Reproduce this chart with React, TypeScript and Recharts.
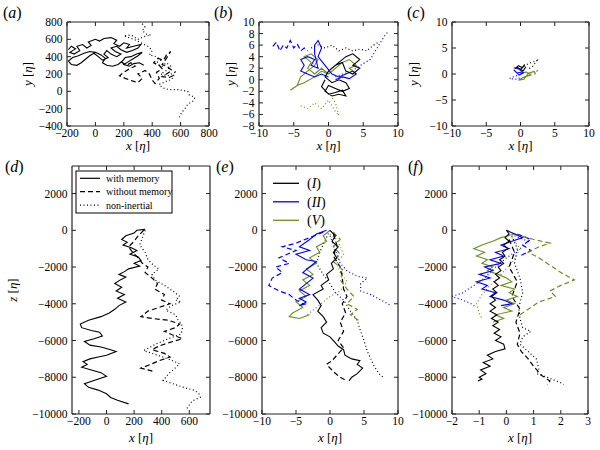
import React from 'react';
import { LineChart, Line, XAxis, YAxis } from 'recharts';

type P = [number, number];

// ---------- Panel (a): x-y trajectories, case (I) ----------
const aWithMemory: P[] = [[-190,480],[-170,520],[-140,490],[-180,450],[-150,430],[-110,470],[-130,520],[-90,540],[-60,500],[-30,530],[-50,570],[0,600],[30,580],[60,610],[110,620],[150,590],[130,550],[170,520],[200,560],[240,540],[220,500],[270,520],[320,540],[300,500],[260,470],[220,450],[180,480],[150,520],[110,500],[140,460],[180,430],[150,400],[110,430],[80,470],[60,430],[90,390],[50,360],[20,400],[-10,440],[-40,410],[-70,370],[-100,330],[-130,300],[-170,310],[-190,350],[-160,390],[-120,410],[-80,440],[-40,460],[0,450],[40,420],[70,380],[50,330],[80,300],[120,290],[160,310],[190,350],[210,390],[250,400],[290,430],[330,450],[300,410],[260,370],[230,340],[200,310],[240,290],[270,320],[310,330],[340,300]];
const aWithoutMemory: P[] = [[180,340],[220,300],[250,330],[280,290],[240,260],[200,220],[170,180],[210,150],[260,120],[300,100],[330,150],[300,200],[350,240],[380,200],[400,130],[420,90],[450,150],[430,220],[470,260],[450,300],[410,330],[440,380],[480,360],[500,420],[530,460],[500,380],[470,310],[510,280],[540,240],[500,200],[470,170],[520,160],[560,190]];
const aNonInertial: P[] = [[330,780],[350,740],[330,700],[360,660],[390,650],[340,630],[300,600],[250,650],[200,640],[270,600],[320,560],[370,520],[400,470],[380,420],[430,400],[460,360],[420,320],[470,290],[500,330],[530,290],[500,240],[460,200],[510,180],[560,220],[540,140],[490,110],[450,80],[470,40],[520,20],[580,20],[620,10],[650,0],[660,-40],[700,-70],[690,-110],[650,-150],[630,-200],[610,-240],[590,-300]];

// ---------- Panel (b): x-y trajectories, cases I, II, V ----------
const bBlackSolid: P[] = [[0.5,2],[1.5,3],[2.5,4],[3.5,4.5],[4.5,3.5],[3.5,2.5],[4.5,2],[3.5,1],[2.5,1.5],[2,3],[1,2.5],[0,1.5],[-0.5,0.5],[0.5,-0.5],[1.5,0],[2.5,-0.5],[3,-1.5],[2,-2],[1,-1.5],[0,-1],[-0.5,-2],[0.5,-2.8],[1.5,-2.5],[2.5,-2.8],[2,-1.8],[1,-2.2],[0,-2.5],[-1,-1.2],[-0.5,0]];
const bBlackDotted: P[] = [[-2.5,5.5],[-1.5,6],[-0.5,5.5],[0.5,6],[1.5,5],[2.5,5.5],[3.5,5],[4.5,5.3],[5.5,5],[6.5,6],[7.2,6.5]];
const bBlueSolid: P[] = [[0,0.5],[-1,1],[-2,0.5],[-3,1],[-4,1.5],[-3.5,2.5],[-4,3.5],[-3,4],[-2,3.5],[-2.5,2.5],[-1.5,2],[-2,4.5],[-2,6],[-1.5,6.8],[-1,5.5],[-1.5,4],[-0.5,2.5],[0.5,1],[1.5,0.5],[2.5,1],[3.5,1.5],[4,1],[3,0.2],[2,0.5],[1,0]];
const bBlueDashed: P[] = [[-8,5.8],[-7.5,6.5],[-7,5],[-6.5,6],[-6,5.5],[-5.5,6.8],[-5,5.5],[-4.5,6.2],[-4,5],[-3.5,5.5],[-3,5]];
const bBlueDotted: P[] = [[1,0.5],[2,1],[3,1.3],[4,2],[5,2.8],[6,3.5],[6.5,4.5],[7,5.5],[7.5,6.5],[8,7.5],[8.5,8.2]];
const bGreenSolid: P[] = [[0,1],[-1,2],[-2,1],[-3,2],[-2.5,3],[-3.5,4],[-2.5,4.5],[-1.5,3.5],[-2,2.5],[-3,1.5],[-4,0.5],[-4.5,-1],[-5.5,-1.8],[-4.5,-1],[-3.5,-0.5],[-2,0.5],[-1,1.5],[0,1],[1,2],[2,3],[3,3.5],[4,2.5],[3,2],[4,1]];
const bGreenDotted: P[] = [[-4,-4.5],[-3,-5],[-2,-4],[-1,-5],[0,-3.5],[0.5,-4.5],[1,-5.5],[1.5,-6.2],[1,-4],[0.5,-3]];

// ---------- Panel (c) ----------
const cBlackSolid: P[] = [[-0.8,1],[-0.3,1.6],[0.3,1.2],[0.6,1.8],[0,0.8],[-0.5,1.3],[0.4,0.6],[0.8,1.4]];
const cBlackDotted: P[] = [[0.5,1.5],[1.2,2],[1.8,2.3],[2.4,2.6],[1.8,1.5],[1.2,1]];
const cBlueSolid: P[] = [[-1,1.2],[-0.3,1],[0.3,0.4],[-0.5,0.2],[-1,0.8],[-0.2,-0.2],[0.5,0.3]];
const cBlueDotted: P[] = [[-0.5,-0.3],[-1.2,-0.6],[-1.6,-0.9],[-0.6,-1],[0.2,-0.6]];
const cGreenSolid: P[] = [[0,0],[0.8,0.4],[1.5,-0.2],[0.5,-0.6],[-0.3,-1.2],[0.5,-1],[1.2,0.2],[2,0.5],[2.2,0]];
const cGreenDotted: P[] = [[1,-0.3],[1.8,0.2],[2.4,0.6],[2,-0.2]];

// ---------- Panel (d): x-z, case (I) ----------
const dWithMemory: P[] = [[280,50],[220,0],[200,-150],[140,-300],[110,-500],[150,-650],[120,-800],[180,-950],[220,-1100],[170,-1300],[230,-1450],[250,-1650],[200,-1800],[240,-1950],[160,-2100],[130,-2250],[90,-2400],[140,-2550],[100,-2700],[60,-2900],[110,-3100],[70,-3300],[130,-3500],[80,-3700],[140,-3900],[90,-4100],[60,-4300],[20,-4500],[-40,-4700],[-130,-4900],[-190,-5100],[-180,-5300],[-110,-5450],[-50,-5550],[-30,-5750],[-90,-5900],[-160,-6050],[-120,-6250],[-40,-6350],[30,-6500],[70,-6600],[0,-6800],[-60,-6900],[-120,-7000],[-170,-7150],[-140,-7300],[-180,-7450],[-110,-7600],[-40,-7750],[0,-7950],[-80,-8150],[-160,-8350],[-130,-8550],[-60,-8700],[0,-8900],[30,-9100],[80,-9250],[160,-9450]];
const dWithoutMemory: P[] = [[270,0],[230,-300],[200,-600],[160,-900],[190,-1200],[230,-1500],[260,-1800],[300,-2000],[280,-2300],[330,-2600],[370,-2900],[350,-3200],[420,-3500],[400,-3800],[460,-4000],[380,-4200],[300,-4400],[250,-4700],[330,-4800],[450,-4900],[530,-5100],[500,-5300],[420,-5500],[480,-5700],[550,-5900],[460,-6100],[380,-6300],[330,-6500],[420,-6700],[460,-6900],[380,-7100],[320,-7300],[250,-7500],[300,-7600],[350,-7700]];
const dNonInertial: P[] = [[280,0],[260,-400],[240,-800],[280,-1200],[300,-1600],[340,-1900],[380,-2100],[330,-2400],[350,-2700],[420,-3000],[480,-3300],[530,-3600],[500,-3800],[540,-3900],[470,-4100],[430,-4350],[500,-4600],[520,-4900],[545,-5100],[550,-5400],[540,-5650],[450,-5900],[360,-6180],[270,-6550],[350,-6750],[410,-6900],[480,-7100],[530,-7270],[490,-7550],[450,-7810],[410,-8170],[480,-8350],[550,-8530],[640,-8720],[670,-8900],[680,-9080],[620,-9300],[600,-9500],[580,-9720]];

// ---------- Panel (e): x-z, cases I, II, V ----------
const eBlackSolid: P[] = [[0,0],[0.8,-300],[0.3,-600],[1.2,-900],[0.5,-1200],[1,-1500],[0.2,-1800],[0.5,-2100],[-0.5,-2400],[-0.2,-2700],[-1.3,-3000],[-1,-3200],[-2.5,-3500],[-1.8,-3800],[-1.3,-4100],[-1.8,-4400],[-1,-4700],[-0.5,-5000],[-1.3,-5300],[-1,-5600],[0,-5800],[0.5,-6000],[1.2,-6300],[2,-6500],[2.2,-6800],[3.2,-7000],[4.4,-7100],[4,-7300],[4.8,-7500],[4,-7800],[3.2,-8000],[2.8,-8200]];
const eBlackDashed: P[] = [[0.5,-200],[1,-800],[0.5,-1400],[1.5,-2000],[1.8,-2600],[2,-3200],[2.5,-3600],[1.8,-4000],[2.3,-4500],[1.5,-5000],[2,-5500],[1.2,-6000],[2,-6400],[1,-6800],[0.3,-7100],[-0.5,-7300],[0.5,-7700],[1.5,-8000],[2.5,-8200]];
const eBlackDotted: P[] = [[0,0],[-0.8,-600],[-1.5,-1200],[-2,-1800],[-1,-2400],[0,-2900],[0.8,-3400],[2,-3800],[3,-4400],[4,-4900],[4.5,-5500],[5,-6000],[5.5,-6600],[6,-7000],[6.5,-7400],[7.2,-7800],[7.8,-8000]];
const eBlueSolid: P[] = [[-0.5,0],[-2,-200],[-3,-500],[-4.5,-900],[-3,-1100],[-5,-1300],[-3.5,-1600],[-2,-1700],[-3,-2000],[-4,-2300],[-2.5,-2600],[-3.5,-2900],[-4.5,-3200],[-3,-3500],[-4.5,-3700],[-3.5,-3900],[-4.5,-4100],[-3.5,-4000]];
const eBlueDashed: P[] = [[-1,-100],[-3,-400],[-5,-700],[-7,-900],[-5,-1100],[-7.5,-1500],[-6,-1800],[-8,-2000],[-7,-2300],[-8.5,-2600],[-9,-3000],[-7.5,-3300],[-6,-3500],[-5,-3800],[-4,-4000]];
const eBlueDotted: P[] = [[0,-300],[0.5,-800],[1,-1300],[1.5,-1800],[2.5,-2200],[4,-2500],[5.5,-2600],[4.5,-2900],[4.5,-3300],[6,-3500],[7.5,-3800],[8.5,-4000],[9,-4100]];
const eGreenSolid: P[] = [[0,0],[-1,-300],[-0.5,-600],[-2,-900],[-1.5,-1200],[-3,-1500],[-2,-1800],[-3.5,-2100],[-2.5,-2400],[-4,-2700],[-3,-3000],[-4.5,-3300],[-3.5,-3600],[-5,-3900],[-4,-4200],[-5.5,-4500],[-6,-4700],[-4.5,-4800],[-3,-4600]];
const eGreenDashed: P[] = [[0.5,-100],[1.5,-500],[0.5,-900],[1.5,-1300],[0.5,-1700],[2,-2200],[1.5,-2700],[2.5,-3200],[3.5,-3600],[2.5,-4000],[4,-4300],[3,-4600],[4.2,-4900]];
const eGreenDotted: P[] = [[0,-200],[1,-500],[1.5,-900],[2,-1300],[1,-1800],[1.5,-2300],[2.5,-2800],[1.5,-3300],[0,-3600],[-1,-3900],[-2,-4200],[-3,-4500],[-4,-4800]];

// ---------- Panel (f) ----------
const fBlackSolid: P[] = [[0,0],[0.1,-200],[-0.05,-400],[0.1,-600],[-0.1,-800],[0.05,-1000],[-0.15,-1200],[-0.05,-1400],[-0.25,-1600],[-0.1,-1800],[-0.3,-2000],[-0.2,-2200],[-0.4,-2400],[-0.25,-2600],[-0.45,-2800],[-0.3,-3000],[-0.5,-3200],[-0.35,-3400],[-0.55,-3600],[-0.4,-3800],[-0.6,-4000],[-0.4,-4200],[-0.6,-4400],[-0.35,-4600],[-0.55,-4800],[-0.3,-5000],[-0.5,-5200],[-0.25,-5400],[-0.45,-5600],[-0.2,-5800],[-0.4,-6000],[-0.1,-6200],[-0.05,-6450],[-0.4,-6600],[-0.7,-6800],[-0.5,-7000],[-0.85,-7200],[-0.6,-7400],[-0.95,-7600],[-0.75,-7800],[-1.0,-8000],[-0.9,-8100],[-1.05,-8200]];
const fBlackDashed: P[] = [[0.1,-500],[0.3,-1200],[0.1,-2000],[0.4,-2800],[0.2,-3600],[0.5,-4300],[0.35,-5000],[0.5,-5600],[0.4,-6200],[0.55,-6600],[0.8,-7000],[1.0,-7400],[1.3,-7900],[1.6,-8200],[1.5,-8400]];
const fBlackDotted: P[] = [[0.2,-300],[0.4,-1000],[0.3,-1800],[0.5,-2600],[0.6,-3400],[0.45,-4200],[0.5,-4800],[0.6,-5300],[0.9,-5500],[0.6,-5800],[0.5,-6200],[0.8,-6600],[1.1,-7000],[1.2,-7600],[1.1,-7800],[1.5,-8000],[2.0,-8300],[2.1,-8400]];
const fBlueSolid: P[] = [[0,0],[0.3,-200],[0.6,-400],[0.2,-600],[-0.2,-800],[0.1,-1000],[-0.4,-1200],[-0.1,-1400],[-0.6,-1600],[-0.2,-1800],[-0.8,-2000],[-0.5,-2200],[-1.0,-2400],[-0.6,-2600],[-1.1,-2800],[-0.7,-3000],[-0.9,-3200],[-0.4,-3400],[-0.6,-3600],[-0.1,-3800],[0.2,-4000],[-0.2,-4100]];
const fBlueDashed: P[] = [[0.4,-200],[0.9,-500],[0.6,-800],[0.9,-1100],[0.5,-1400]];
const fBlueDotted: P[] = [[0.3,-300],[0.8,-600],[0.5,-1000],[0,-1500],[-0.4,-2000],[-0.8,-2600],[-1.2,-3000],[-1.6,-3400],[-2,-3600],[-1.6,-3800],[-1.3,-4000],[-1.1,-4200]];
const fGreenSolid: P[] = [[0,0],[0.3,-200],[-0.2,-400],[-0.5,-600],[-0.9,-800],[-1.2,-1000],[-0.8,-1200],[-1.1,-1400],[-0.7,-1600],[-0.9,-1800],[-0.5,-2000],[-0.7,-2200],[-0.3,-2400],[0,-2600],[0.2,-2800],[-0.2,-3000],[0.3,-3200],[0.1,-3400],[0.4,-3600],[0,-3800],[0.3,-4000],[-0.1,-4200],[0.2,-4400],[-0.4,-4600],[-0.1,-4800],[-0.5,-5000]];
const fGreenDashed: P[] = [[0.3,-200],[1.0,-500],[1.6,-700],[1.2,-900],[0.8,-1200],[1.2,-1500],[1.6,-1900],[2.0,-2300],[2.5,-2700],[2.0,-3000],[1.6,-3300],[1.8,-3600],[1.2,-3900],[0.8,-4300],[0.5,-4600]];
const fGreenDotted: P[] = [[0.2,-400],[0.5,-1000],[0.3,-1600],[-0.2,-2400],[-0.6,-3000],[-0.9,-3500],[-1.1,-4000],[-1.0,-4500],[-0.9,-4800]];

// ---------- Axis ticks ----------
const aXTicks = [-200, 0, 200, 400, 600, 800];
const aYTicks = [-400, -200, 0, 200, 400, 600, 800];
const bXTicks = [-10, -5, 0, 5, 10];
const bYTicks = [-8, -6, -4, -2, 0, 2, 4, 6, 8, 10];
const cXTicks = [-10, -5, 0, 5, 10];
const cYTicks = [-10, -5, 0, 5, 10];
const dXTicks = [-200, 0, 200, 400, 600];
const fXTicks = [-2, -1, 0, 1, 2, 3];
const zTicks = [-10000, -8000, -6000, -4000, -2000, 0, 2000];

const legendMemory = ['with memory', 'without memory', 'non-inertial'];
const legendCases = ['I', 'II', 'V'];

const BLACK = '#000000';
const BLUE = '#0000ff';
const GREEN = '#6b8e23';
const FRAME = '#222222';
const FONT = "'Liberation Serif', 'DejaVu Serif', 'Liberation Sans', sans-serif";
const TXT: React.CSSProperties = { fontFamily: FONT };
const TICK_FS = 11.5;

type Style = 'solid' | 'dashed' | 'dotted';
type Series = { pts: P[]; color: string; style: Style };

const dash = (s: Style) => (s === 'dashed' ? '5 3' : s === 'dotted' ? '1 2.5' : undefined);
const fmt = (v: number) => (v < 0 ? '\u2212' + Math.abs(v) : String(v));

const BottomTick = (props: any) => {
  const { x, y, payload } = props;
  return (
    <g>
      <line x1={x} x2={x} y1={y} y2={y - 4} stroke={FRAME} strokeWidth={1} />
      <text x={x} y={y + 11} textAnchor="middle" style={TXT} fontSize={TICK_FS} fill="#000">
        {fmt(payload.value)}
      </text>
    </g>
  );
};
const TopTick = (props: any) => {
  const { x, y } = props;
  return <line x1={x} x2={x} y1={y} y2={y + 4} stroke={FRAME} strokeWidth={1} />;
};
const LeftTick = (props: any) => {
  const { x, y, payload } = props;
  return (
    <g>
      <line x1={x} x2={x + 4} y1={y} y2={y} stroke={FRAME} strokeWidth={1} />
      <text x={x - 4.5} y={y} dy="0.35em" textAnchor="end" style={TXT} fontSize={TICK_FS} fill="#000">
        {fmt(payload.value)}
      </text>
    </g>
  );
};
const RightTick = (props: any) => {
  const { x, y } = props;
  return <line x1={x} x2={x - 4} y1={y} y2={y} stroke={FRAME} strokeWidth={1} />;
};

type Box = { x: number; y: number; w: number; h: number };

function Panel(props: {
  box: Box;
  xDomain: [number, number];
  yDomain: [number, number];
  xTicks: number[];
  yTicks: number[];
  series: Series[];
}) {
  const { box, xDomain, yDomain, xTicks, yTicks, series } = props;
  const ML = 50, MR = 10, MT = 10, MB = 30;
  const W = box.w + ML + MR;
  const H = box.h + MT + MB;
  const axisLine = { stroke: FRAME, strokeWidth: 1.2 };
  return (
    <div style={{ position: 'absolute', left: box.x - ML, top: box.y - MT, width: W, height: H }}>
      <LineChart width={W} height={H} margin={{ top: 0, right: 0, bottom: 0, left: 0 }}>
        <XAxis xAxisId="b" orientation="bottom" type="number" dataKey="x" domain={xDomain} ticks={xTicks}
          interval={0} height={MB} tickSize={0} tickMargin={0} tick={BottomTick} axisLine={axisLine} allowDataOverflow />
        <XAxis xAxisId="t" orientation="top" type="number" dataKey="x" domain={xDomain} ticks={xTicks}
          interval={0} height={MT} tickSize={0} tickMargin={0} tick={TopTick} axisLine={axisLine} allowDataOverflow />
        <YAxis yAxisId="l" orientation="left" type="number" dataKey="y" domain={yDomain} ticks={yTicks}
          interval={0} width={ML} tickSize={0} tickMargin={0} tick={LeftTick} axisLine={axisLine} allowDataOverflow />
        <YAxis yAxisId="r" orientation="right" type="number" dataKey="y" domain={yDomain} ticks={yTicks}
          interval={0} width={MR} tickSize={0} tickMargin={0} tick={RightTick} axisLine={axisLine} allowDataOverflow />
        {series.map((s, i) => (
          <Line key={i} xAxisId="b" yAxisId="l" data={s.pts.map(([x, y]) => ({ x, y }))} dataKey="y"
            type="linear" stroke={s.color} strokeWidth={s.style === 'solid' ? 1.1 : 1.2}
            strokeDasharray={dash(s.style)} dot={false} activeDot={false} isAnimationActive={false} />
        ))}
      </LineChart>
    </div>
  );
}

const boxA: Box = { x: 67, y: 22, w: 142, h: 104 };
const boxB: Box = { x: 259, y: 22, w: 139, h: 104 };
const boxC: Box = { x: 452, y: 22, w: 137, h: 104 };
const boxD: Box = { x: 72, y: 166, w: 138, h: 248 };
const boxE: Box = { x: 262, y: 166, w: 136, h: 248 };
const boxF: Box = { x: 452, y: 166, w: 136, h: 248 };

const It = ({ children }: { children: React.ReactNode }) => <tspan fontStyle="italic">{children}</tspan>;

function XLabel({ box, baseline }: { box: Box; baseline: number }) {
  return (
    <text x={box.x + box.w / 2} y={baseline} textAnchor="middle" style={TXT} fontSize={13}>
      <It>x</It> [<It>η</It>]
    </text>
  );
}
function YLabel({ cx, cy, name }: { cx: number; cy: number; name: string }) {
  return (
    <text x={cx} y={cy} transform={`rotate(-90 ${cx} ${cy})`} textAnchor="middle" dominantBaseline="central"
      style={TXT} fontSize={13}>
      <It>{name}</It> [<It>η</It>]
    </text>
  );
}
function Letter({ x, y, ch }: { x: number; y: number; ch: string }) {
  return (
    <text x={x} y={y} style={TXT} fontSize={16}>
      (<It>{ch}</It>)
    </text>
  );
}

export default function App() {
  const S = (pts: P[], color: string, style: Style): Series => ({ pts, color, style });
  return (
    <div style={{ position: 'absolute', left: 0, top: 0, width: 600, height: 450, background: '#fff', overflow: 'hidden' }}>
      <Panel box={boxA} xDomain={[-200, 800]} yDomain={[-400, 800]} xTicks={aXTicks} yTicks={aYTicks}
        series={[S(aWithMemory, BLACK, 'solid'), S(aWithoutMemory, BLACK, 'dashed'), S(aNonInertial, BLACK, 'dotted')]} />
      <Panel box={boxB} xDomain={[-10, 10]} yDomain={[-8, 10]} xTicks={bXTicks} yTicks={bYTicks}
        series={[S(bGreenDotted, GREEN, 'dotted'), S(bBlackDotted, BLACK, 'dotted'), S(bBlueDotted, BLUE, 'dotted'),
          S(bBlueDashed, BLUE, 'dashed'), S(bGreenSolid, GREEN, 'solid'), S(bBlueSolid, BLUE, 'solid'), S(bBlackSolid, BLACK, 'solid')]} />
      <Panel box={boxC} xDomain={[-10, 10]} yDomain={[-10, 10]} xTicks={cXTicks} yTicks={cYTicks}
        series={[S(cBlackDotted, BLACK, 'dotted'), S(cBlueDotted, BLUE, 'dotted'), S(cGreenDotted, GREEN, 'dotted'),
          S(cBlackSolid, BLACK, 'solid'), S(cGreenSolid, GREEN, 'solid'), S(cBlueSolid, BLUE, 'solid')]} />
      <Panel box={boxD} xDomain={[-250, 750]} yDomain={[-10000, 3500]} xTicks={dXTicks} yTicks={zTicks}
        series={[S(dWithMemory, BLACK, 'solid'), S(dWithoutMemory, BLACK, 'dashed'), S(dNonInertial, BLACK, 'dotted')]} />
      <Panel box={boxE} xDomain={[-10, 10]} yDomain={[-10000, 3500]} xTicks={cXTicks} yTicks={zTicks}
        series={[S(eBlackDotted, BLACK, 'dotted'), S(eBlueDotted, BLUE, 'dotted'), S(eGreenDotted, GREEN, 'dotted'),
          S(eBlackDashed, BLACK, 'dashed'), S(eBlueDashed, BLUE, 'dashed'), S(eGreenDashed, GREEN, 'dashed'),
          S(eGreenSolid, GREEN, 'solid'), S(eBlueSolid, BLUE, 'solid'), S(eBlackSolid, BLACK, 'solid')]} />
      <Panel box={boxF} xDomain={[-2, 3]} yDomain={[-10000, 3500]} xTicks={fXTicks} yTicks={zTicks}
        series={[S(fBlackDotted, BLACK, 'dotted'), S(fBlueDotted, BLUE, 'dotted'), S(fGreenDotted, GREEN, 'dotted'),
          S(fBlackDashed, BLACK, 'dashed'), S(fBlueDashed, BLUE, 'dashed'), S(fGreenDashed, GREEN, 'dashed'),
          S(fGreenSolid, GREEN, 'solid'), S(fBlueSolid, BLUE, 'solid'), S(fBlackSolid, BLACK, 'solid')]} />

      <svg width={600} height={450} style={{ position: 'absolute', left: 0, top: 0, pointerEvents: 'none' }}>
        <Letter x={3} y={18} ch="a" />
        <Letter x={214} y={18} ch="b" />
        <Letter x={407} y={18} ch="c" />
        <Letter x={5} y={172} ch="d" />
        <Letter x={216} y={172} ch="e" />
        <Letter x={408} y={172} ch="f" />

        <XLabel box={boxA} baseline={150} />
        <XLabel box={boxB} baseline={150} />
        <XLabel box={boxC} baseline={150} />
        <XLabel box={boxD} baseline={442} />
        <XLabel box={boxE} baseline={442} />
        <XLabel box={boxF} baseline={442} />

        <YLabel cx={27} cy={74} name="y" />
        <YLabel cx={230} cy={74} name="y" />
        <YLabel cx={413} cy={74} name="y" />
        <YLabel cx={12} cy={290} name="z" />

        {/* legend (d) */}
        <rect x={76} y={171} width={96} height={42} fill="#fff" stroke="#000" strokeWidth={1} />
        {legendMemory.map((label, i) => {
          const y = 178.3 + i * 13.4;
          const st: Style = i === 0 ? 'solid' : i === 1 ? 'dashed' : 'dotted';
          return (
            <g key={label}>
              <line x1={80} x2={100} y1={y} y2={y} stroke={BLACK} strokeWidth={1.2} strokeDasharray={dash(st)} />
              <text x={106} y={y + 3.5} style={TXT} fontSize={10}>{label}</text>
            </g>
          );
        })}

        {/* legend (e) */}
        {legendCases.map((label, i) => {
          const y = 183.3 + i * 18.5;
          const c = [BLACK, BLUE, GREEN][i];
          return (
            <g key={label}>
              <line x1={273} x2={299} y1={y} y2={y} stroke={c} strokeWidth={1.3} />
              <text x={307} y={y + 5} style={TXT} fontSize={14}>
                (<It>{label}</It>)
              </text>
            </g>
          );
        })}
      </svg>
    </div>
  );
}
